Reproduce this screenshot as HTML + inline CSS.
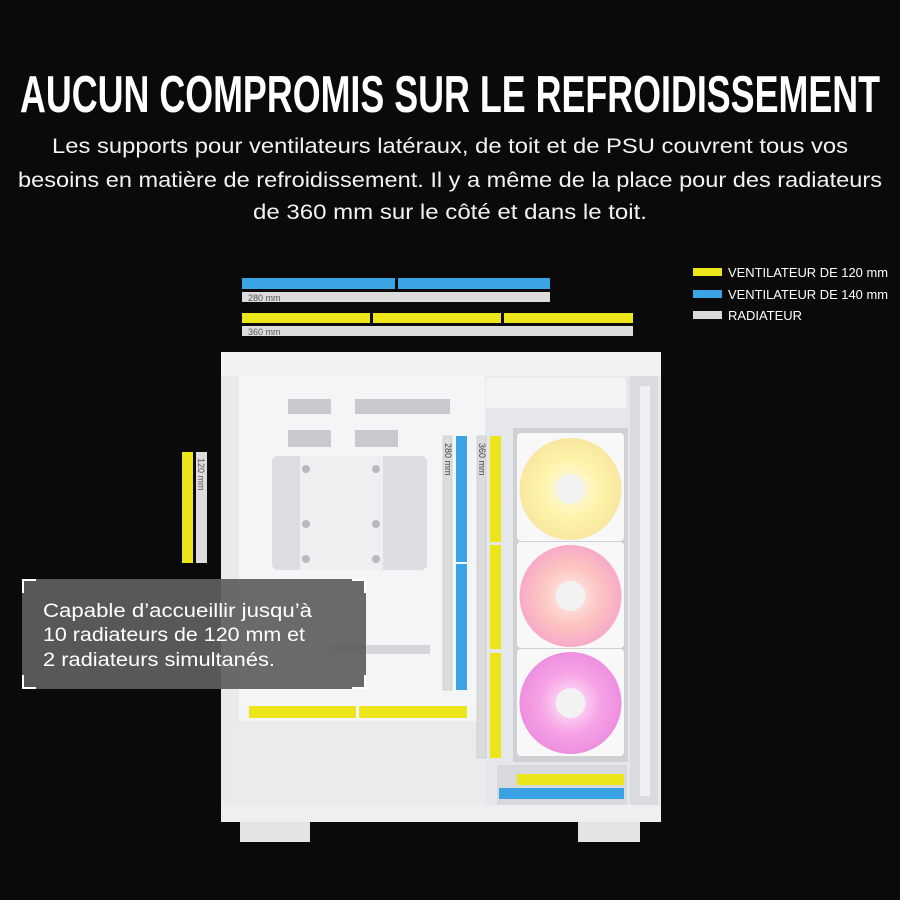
<!DOCTYPE html>
<html><head><meta charset="utf-8"><style>
html,body{margin:0;padding:0;background:#0a0a0a;}
svg{display:block}
</style></head><body>
<svg width="900" height="900" viewBox="0 0 900 900" xmlns="http://www.w3.org/2000/svg" font-family="Liberation Sans, DejaVu Sans, sans-serif">
<defs>
<radialGradient id="fy" cx="50%" cy="50%" r="50%"><stop offset="0" stop-color="#fffbe8"/><stop offset="0.6" stop-color="#fdf3a8"/><stop offset="1" stop-color="#f8e7a0"/></radialGradient>
<radialGradient id="fo" cx="50%" cy="50%" r="50%"><stop offset="0" stop-color="#fff0ea"/><stop offset="0.6" stop-color="#fcc3c0"/><stop offset="1" stop-color="#f7aac8"/></radialGradient>
<radialGradient id="fp" cx="50%" cy="50%" r="50%"><stop offset="0" stop-color="#ffeefa"/><stop offset="0.6" stop-color="#f6a2e6"/><stop offset="1" stop-color="#ee8fe0"/></radialGradient>
</defs>
<rect width="900" height="900" fill="#0a0a0a"/>
<!-- Title -->
<text x="450" y="112" fill="#fff" font-size="52" font-weight="bold" text-anchor="middle" textLength="860" lengthAdjust="spacingAndGlyphs">AUCUN COMPROMIS SUR LE REFROIDISSEMENT</text>
<g fill="#f2f2f2" font-size="21">
<text x="52" y="153" textLength="796" lengthAdjust="spacingAndGlyphs">Les supports pour ventilateurs latéraux, de toit et de PSU couvrent tous vos</text>
<text x="18" y="187" textLength="864" lengthAdjust="spacingAndGlyphs">besoins en matière de refroidissement. Il y a même de la place pour des radiateurs</text>
<text x="253" y="219" textLength="394" lengthAdjust="spacingAndGlyphs">de 360 mm sur le côté et dans le toit.</text>
</g>
<!-- Legend -->
<rect x="693" y="268" width="29" height="8" fill="#ebe51a"/>
<rect x="693" y="290" width="29" height="8" fill="#3aa3e6"/>
<rect x="693" y="311" width="29" height="8" fill="#d9d9d9"/>
<g fill="#fff" font-size="12.5">
<text x="728" y="277" textLength="160" lengthAdjust="spacingAndGlyphs">VENTILATEUR DE 120 mm</text>
<text x="728" y="299" textLength="160" lengthAdjust="spacingAndGlyphs">VENTILATEUR DE 140 mm</text>
<text x="728" y="320" textLength="74" lengthAdjust="spacingAndGlyphs">RADIATEUR</text>
</g>
<!-- top bars -->
<rect x="242" y="278" width="153" height="11" fill="#3aa3e6"/>
<rect x="398" y="278" width="152" height="11" fill="#3aa3e6"/>
<rect x="242" y="292" width="308" height="10" fill="#dcdcdc"/>
<text x="248" y="301" font-size="9" fill="#555">280 mm</text>
<rect x="242" y="313" width="128" height="10" fill="#ebe51a"/>
<rect x="373" y="313" width="128" height="10" fill="#ebe51a"/>
<rect x="504" y="313" width="129" height="10" fill="#ebe51a"/>
<rect x="242" y="326" width="391" height="10" fill="#dcdcdc"/>
<text x="248" y="335" font-size="9" fill="#555">360 mm</text>
<!-- left 120 bars -->
<rect x="182" y="452" width="11" height="111" fill="#ebe51a"/>
<rect x="196" y="452" width="11" height="111" fill="#dcdcdc"/>
<text transform="translate(198,458) rotate(90)" font-size="9" fill="#555">120 mm</text>
<!-- Case -->
<rect x="221" y="352" width="440" height="470" fill="#e9eaec"/>
<rect x="221" y="352" width="440" height="24" fill="#f1f2f3"/>
<rect x="240" y="820" width="70" height="22" fill="#e3e4e6"/>
<rect x="578" y="820" width="62" height="22" fill="#e3e4e6"/>
<rect x="221" y="805" width="440" height="17" fill="#eeeff0"/>
<!-- left compartment -->
<rect x="239" y="376" width="246" height="345" fill="#f4f5f6"/>
<rect x="239" y="721" width="246" height="84" fill="#eaebed"/>
<rect x="288" y="399" width="43" height="15" fill="#c9cacd"/>
<rect x="355" y="399" width="95" height="15" fill="#c9cacd"/>
<rect x="288" y="430" width="43" height="17" fill="#c9cacd"/>
<rect x="355" y="430" width="43" height="17" fill="#c9cacd"/>
<rect x="272" y="456" width="155" height="114" rx="6" fill="#dcdde0"/>
<rect x="300" y="456" width="83" height="114" fill="#eeeff1"/>
<circle cx="306" cy="469" r="4" fill="#b8b9bc"/><circle cx="376" cy="469" r="4" fill="#b8b9bc"/>
<circle cx="306" cy="524" r="4" fill="#b8b9bc"/><circle cx="376" cy="524" r="4" fill="#b8b9bc"/>
<circle cx="306" cy="559" r="4" fill="#b8b9bc"/><circle cx="376" cy="559" r="4" fill="#b8b9bc"/>
<rect x="330" y="645" width="100" height="9" fill="#d5d6d9"/>
<!-- right compartment -->
<rect x="486" y="378" width="144" height="427" fill="#e6e7ea"/>
<rect x="486" y="378" width="140" height="30" fill="#f3f4f5"/>
<rect x="630" y="376" width="28" height="429" fill="#dadbde"/>
<rect x="640" y="386" width="10" height="410" fill="#eef0f2"/>
<rect x="513" y="428" width="115" height="334" fill="#d0d1d4"/>
<rect x="497" y="765" width="130" height="40" fill="#d8d9dc"/>
<!-- fans -->
<g>
<rect x="517" y="433" width="107" height="108" rx="4" fill="#f8f8f8"/>
<circle cx="570.5" cy="489" r="51" fill="url(#fy)"/>
<circle cx="570.5" cy="489" r="15" fill="#f2f2f2"/>
<rect x="517" y="542" width="107" height="106" rx="4" fill="#f8f8f8"/>
<circle cx="570.5" cy="596" r="51" fill="url(#fo)"/>
<circle cx="570.5" cy="596" r="15" fill="#f2f2f2"/>
<rect x="517" y="649" width="107" height="107" rx="4" fill="#f8f8f8"/>
<circle cx="570.5" cy="703" r="51" fill="url(#fp)"/>
<circle cx="570.5" cy="703" r="15" fill="#f2f2f2"/>
</g>
<!-- vertical bars -->
<rect x="443" y="436" width="9" height="254" fill="#dcdcdc" stroke="#bbb" stroke-width="0.5"/>
<text transform="translate(445,443) rotate(90)" font-size="9" fill="#444">280 mm</text>
<rect x="456" y="436" width="11" height="126" fill="#3aa3e6"/>
<rect x="456" y="564" width="11" height="126" fill="#3aa3e6"/>
<rect x="477" y="436" width="9" height="322" fill="#dcdcdc" stroke="#bbb" stroke-width="0.5"/>
<text transform="translate(479,443) rotate(90)" font-size="9" fill="#444">360 mm</text>
<rect x="490" y="436" width="11" height="106" fill="#ebe51a"/>
<rect x="490" y="545" width="11" height="104" fill="#ebe51a"/>
<rect x="490" y="653" width="11" height="105" fill="#ebe51a"/>
<!-- bottom bars -->
<rect x="249" y="706" width="107" height="12" fill="#ebe51a"/>
<rect x="359" y="706" width="108" height="12" fill="#ebe51a"/>
<rect x="517" y="774" width="107" height="11" fill="#ebe51a"/>
<rect x="499" y="788" width="125" height="11" fill="#3aa3e6"/>
<!-- callout -->
<rect x="22" y="579" width="344" height="110" fill="#5f5f60" fill-opacity="0.93"/>
<path d="M23 593 V580 H36 M352 580 H365 V593 M365 675 V688 H352 M36 688 H23 V675" stroke="#fff" stroke-width="2" fill="none"/>
<g fill="#fff" font-size="19">
<text x="43" y="617" textLength="269" lengthAdjust="spacingAndGlyphs">Capable d’accueillir jusqu’à</text>
<text x="43" y="641" textLength="262" lengthAdjust="spacingAndGlyphs">10 radiateurs de 120 mm et</text>
<text x="43" y="666" textLength="232" lengthAdjust="spacingAndGlyphs">2 radiateurs simultanés.</text>
</g>
</svg>
</body></html>
